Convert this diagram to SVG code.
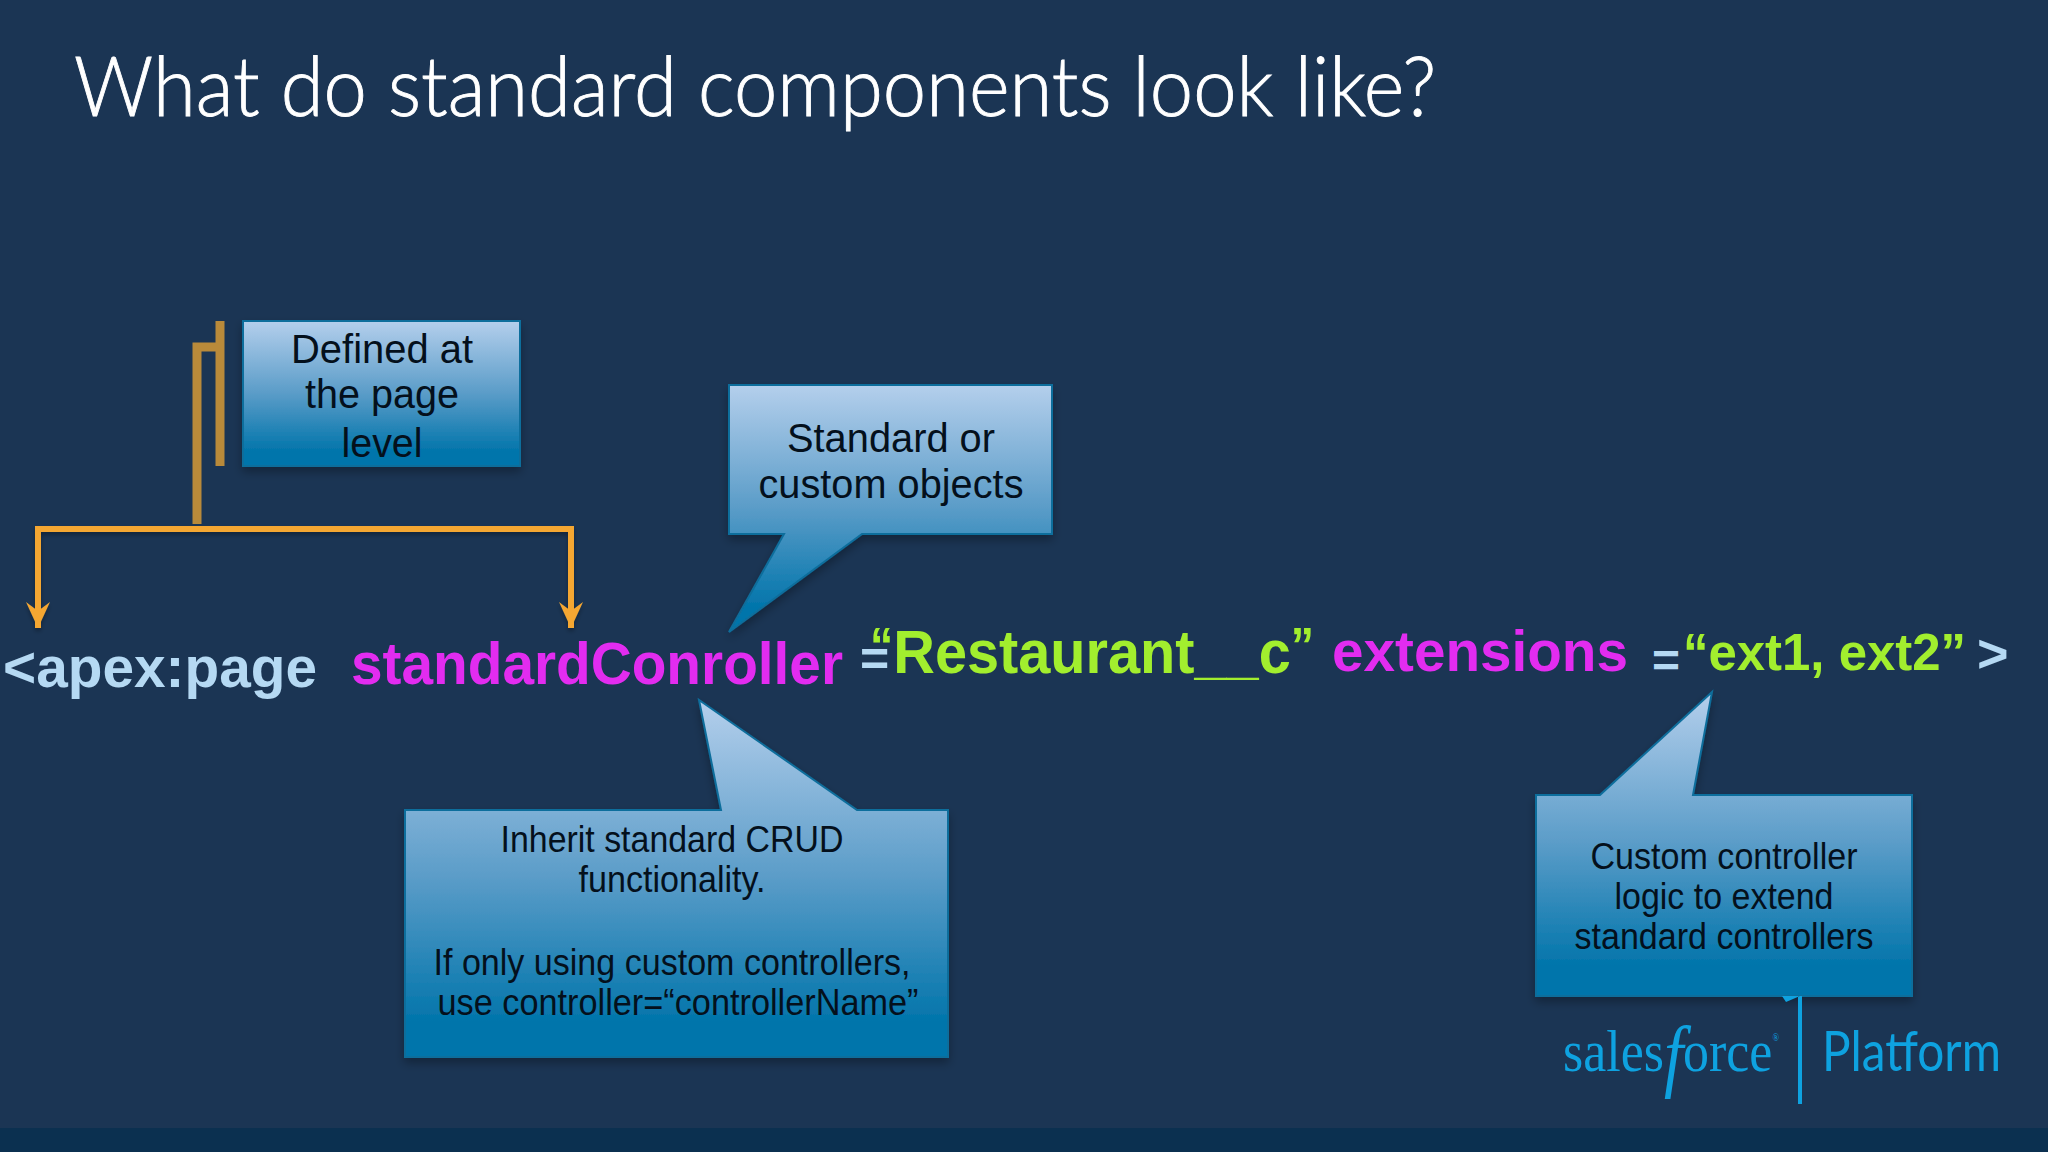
<svg xmlns="http://www.w3.org/2000/svg" width="2048" height="1152" viewBox="0 0 2048 1152">
<style>
.c{font-family:"Liberation Sans",Arial,sans-serif;fill:#04101c;text-anchor:middle;font-size:41px}
.c2{font-family:"Liberation Sans",Arial,sans-serif;fill:#04101c;text-anchor:middle;font-size:37px}
.k{font-family:"Liberation Sans",Arial,sans-serif;font-weight:700}
.bl{fill:#b5d9f3}.mg{fill:#e22cf0}.gr{fill:#a2ee2e}
.box{stroke:#0f6e9c;stroke-width:2;filter:url(#sh)}
.or{fill:none;stroke:#f5a733;stroke-width:6;filter:url(#sh2)}
.od{fill:none;stroke:#b98a3a;stroke-width:9}
.lg{fill:#0ea2e0}
</style>
<defs>
<linearGradient id="g" x1="0" y1="0" x2="0" y2="1"><stop offset="0" stop-color="#b4cfec"/><stop offset="0.5" stop-color="#5a9cc8"/><stop offset="0.9" stop-color="#0275ab"/><stop offset="1" stop-color="#0275ab"/></linearGradient>
<filter id="sh" x="-5%" y="-5%" width="110%" height="115%"><feDropShadow dx="0" dy="5" stdDeviation="5" flood-color="#000" flood-opacity="0.3"/></filter>
<filter id="sh2" x="-5%" y="-5%" width="110%" height="115%"><feDropShadow dx="0" dy="3" stdDeviation="2" flood-color="#000" flood-opacity="0.3"/></filter>
<marker id="arr" markerUnits="userSpaceOnUse" markerWidth="28" markerHeight="28" refX="26" refY="13" orient="auto-start-reverse" viewBox="0 0 28 26"><path d="M26 13 L0 1 L9 13 L0 25 Z" fill="#f5a733"/></marker>
</defs>
<rect id="bg" width="2048" height="1152" fill="#1b3554"/>
<rect id="bar" y="1128" width="2048" height="24" fill="#0b3050"/>
<text id="title" x="74" y="116" font-family="Lato,sans-serif" font-weight="300" font-size="82" fill="#fff" stroke="#fff" stroke-width="0.9" textLength="1362" lengthAdjust="spacingAndGlyphs">What do standard components look like?</text>
<g id="connectors">
<path class="od" d="M220 321V466"/>
<path class="od" d="M220 347H197V524"/>
<path class="or" d="M38 628V529H571V628" marker-start="url(#arr)" marker-end="url(#arr)"/>
</g>
<g id="node-page">
<rect class="box" x="243" y="321" width="277" height="145" fill="url(#g)"/>
<text class="c" x="382" y="363" textLength="182" lengthAdjust="spacingAndGlyphs">Defined at</text>
<text class="c" x="382" y="408" textLength="154" lengthAdjust="spacingAndGlyphs">the page</text>
<text class="c" x="382" y="457" textLength="81" lengthAdjust="spacingAndGlyphs">level</text>
</g>
<g id="node-objects">
<path class="box" d="M729 385H1052V534H862L729 632L784 534H729Z" fill="url(#g)"/>
<text class="c" x="891" y="452" textLength="208" lengthAdjust="spacingAndGlyphs">Standard or</text>
<text class="c" x="891" y="498" textLength="265" lengthAdjust="spacingAndGlyphs">custom objects</text>
</g>
<g id="node-crud">
<path class="box" d="M405 810H721L699 700L857 810H948V1057H405Z" fill="url(#g)"/>
<text class="c2" x="672" y="852" textLength="343" lengthAdjust="spacingAndGlyphs">Inherit standard CRUD</text>
<text class="c2" x="672" y="892" textLength="187" lengthAdjust="spacingAndGlyphs">functionality.</text>
<text class="c2" x="672" y="975" textLength="477" lengthAdjust="spacingAndGlyphs">If only using custom controllers,</text>
<text class="c2" x="678" y="1015" textLength="481" lengthAdjust="spacingAndGlyphs">use controller=“controllerName”</text>
</g>
<g id="node-ext">
<path class="box" d="M1536 795H1600L1712 692L1693 795H1912V996H1536Z" fill="url(#g)"/>
<text class="c2" x="1724" y="869" textLength="267" lengthAdjust="spacingAndGlyphs">Custom controller</text>
<text class="c2" x="1724" y="909" textLength="219" lengthAdjust="spacingAndGlyphs">logic to extend</text>
<text class="c2" x="1724" y="949" textLength="299" lengthAdjust="spacingAndGlyphs">standard controllers</text>
</g>
<g id="code">
<text class="k bl" x="3" y="687" font-size="58" textLength="314" lengthAdjust="spacingAndGlyphs">&lt;apex:page</text>
<text class="k mg" x="351" y="684" font-size="60" textLength="492" lengthAdjust="spacingAndGlyphs">standardConroller</text>
<text class="k bl" x="860" y="676" font-size="50">=</text>
<text class="k gr" x="870" y="673" font-size="62" textLength="444" lengthAdjust="spacingAndGlyphs"><tspan font-size="50" dy="-10">“</tspan><tspan dy="10">Restaurant__c</tspan><tspan font-size="50" dy="-10">”</tspan></text>
<text class="k mg" x="1332" y="671" font-size="57" textLength="296" lengthAdjust="spacingAndGlyphs">extensions</text>
<text class="k bl" x="1652" y="677" font-size="48">=</text>
<text class="k gr" x="1683" y="670" font-size="52" textLength="283" lengthAdjust="spacingAndGlyphs">“ext1, ext2”</text>
<text class="k bl" x="1977" y="672" font-size="54">&gt;</text>
</g>
<g id="logo">
<path class="lg" d="M1782 996H1798V1104H1802V996H1800L1786 1002Z"/>
<text class="lg" x="1563" y="1071" font-family="Liberation Serif,serif" font-size="60" textLength="216" lengthAdjust="spacingAndGlyphs">sales<tspan font-style="italic" font-size="80" dy="11">f</tspan><tspan dy="-11">orce</tspan><tspan font-size="10" dy="-30">®</tspan></text>
<text class="lg" x="1822" y="1071" font-family="Lato,sans-serif" font-weight="400" font-size="56" textLength="179" lengthAdjust="spacingAndGlyphs">Platform</text>
</g>
</svg>
